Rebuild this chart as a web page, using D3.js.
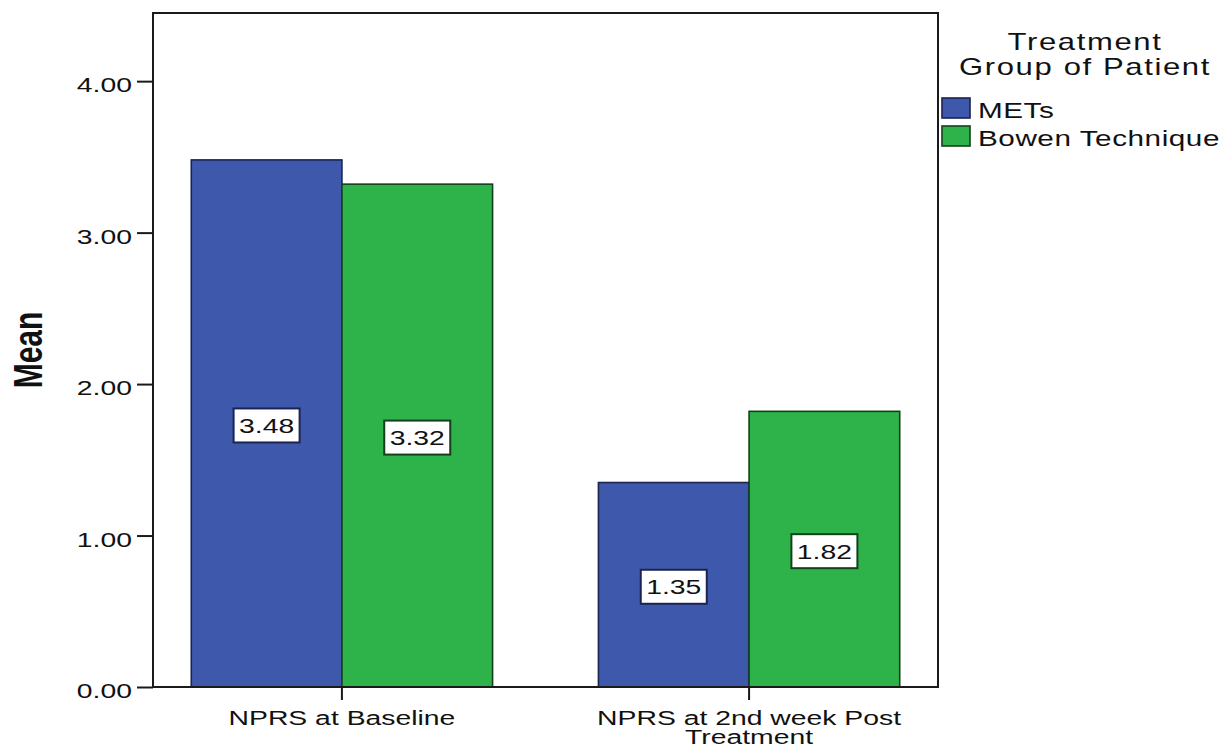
<!DOCTYPE html>
<html>
<head>
<meta charset="utf-8">
<script src="https://cdn.jsdelivr.net/npm/d3@7/dist/d3.min.js"></script>
<style>
  html, body { margin: 0; padding: 0; background: #fff; }
  svg { display: block; font-family: Arial, "Liberation Sans", sans-serif; }
</style>
</head>
<body>
<svg id="chart" width="1227" height="744"></svg>
<script>
// Mean NPRS pain score by treatment group
const categories = ["NPRS at Baseline", "NPRS at 2nd week Post Treatment"];
const categoryLines = [["NPRS at Baseline"], ["NPRS at 2nd week Post", "Treatment"]];
const series = ["METs", "Bowen Technique"];
const metsValues = [3.48, 1.35];
const bowenValues = [3.32, 1.82];
const yTicks = [0, 1, 2, 3, 4];
const legendTitle = ["Treatment", "Group of Patient"];
const yTitle = "Mean";

const seriesValues = [metsValues, bowenValues];
const fills = ["#3E58AC", "#2EB34A"];
const edges = ["#1b2450", "#13401c"];
const SX = 1.35; // horizontal text stretch

const svg = d3.select("#chart");
const plot = { left: 153, top: 13, right: 938, bottom: 687 };

const y = d3.scaleLinear().domain([0, 4.45]).range([plot.bottom, plot.top]);
const x0 = d3.scaleBand().domain(categories).range([plot.left, plot.right])
  .paddingInner(0.26).paddingOuter(0.094);
const x1 = d3.scaleBand().domain(series).range([0, x0.bandwidth()]);

const rows = [];
categories.forEach((c, i) => {
  series.forEach((s, j) => rows.push({ cat: c, ser: s, j, value: seriesValues[j][i] }));
});

// bars
svg.append("g").selectAll("rect").data(rows).join("rect")
  .attr("x", d => x0(d.cat) + x1(d.ser))
  .attr("y", d => y(d.value))
  .attr("width", x1.bandwidth())
  .attr("height", d => y(0) - y(d.value))
  .attr("fill", d => fills[d.j])
  .attr("stroke", d => edges[d.j])
  .attr("stroke-width", 1.6);

// value labels in boxes at half the bar height
const lab = svg.append("g").selectAll("g").data(rows).join("g")
  .attr("transform", d => `translate(${x0(d.cat) + x1(d.ser) + x1.bandwidth() / 2},${(y(d.value) + y(0)) / 2 + 2})`);
lab.append("rect")
  .attr("x", -33).attr("y", -17).attr("width", 66).attr("height", 34)
  .attr("fill", "#fff")
  .attr("stroke", d => edges[d.j])
  .attr("stroke-width", 2);
lab.append("text")
  .attr("transform", `scale(${SX},1)`)
  .attr("text-anchor", "middle")
  .attr("dy", "0.36em")
  .attr("font-size", 21)
  .attr("fill", "#111")
  .text(d => d3.format(".2f")(d.value));

// frame
svg.append("rect")
  .attr("x", plot.left).attr("y", plot.top)
  .attr("width", plot.right - plot.left).attr("height", plot.bottom - plot.top)
  .attr("fill", "none").attr("stroke", "#1a1a1a").attr("stroke-width", 2);

// y axis
const yAxis = svg.append("g")
  .attr("transform", `translate(${plot.left},0)`)
  .call(d3.axisLeft(y).tickValues(yTicks).tickFormat(d3.format(".2f")).tickSize(16).tickSizeOuter(0));
yAxis.select(".domain").remove();
yAxis.selectAll("line").attr("stroke", "#1a1a1a").attr("stroke-width", 2);
yAxis.selectAll("text")
  .attr("transform", `scale(${SX},1)`)
  .attr("x", -21 / SX)
  .attr("dy", "0.5em")
  .attr("font-size", 21)
  .attr("font-family", "Arial, 'Liberation Sans', sans-serif")
  .attr("fill", "#111");

// x axis
const xAxis = svg.append("g")
  .attr("transform", `translate(0,${plot.bottom})`)
  .call(d3.axisBottom(x0).tickSize(13).tickSizeOuter(0).tickFormat(""));
xAxis.select(".domain").remove();
xAxis.selectAll("line").attr("stroke", "#1a1a1a").attr("stroke-width", 2);
xAxis.selectAll(".tick text").remove();
xAxis.selectAll(".tick").each(function (d, i) {
  const t = d3.select(this).append("text")
    .attr("transform", `scale(${SX},1)`)
    .attr("text-anchor", "middle")
    .attr("font-size", 21)
    .attr("font-family", "Arial, 'Liberation Sans', sans-serif")
    .attr("fill", "#111");
  categoryLines[i].forEach((line, k) => {
    t.append("tspan").attr("x", 0).attr("y", 38 + k * 19).text(line);
  });
});

// y title
svg.append("text")
  .attr("transform", `translate(42,350) scale(${SX},1) rotate(-90)`)
  .attr("text-anchor", "middle")
  .attr("font-size", 30)
  .attr("font-weight", "bold")
  .attr("fill", "#111")
  .text(yTitle);

// legend
const leg = svg.append("g");
legendTitle.forEach((line, k) => {
  leg.append("text")
    .attr("transform", `translate(1085,${50 + k * 25}) scale(${SX},1)`)
    .attr("text-anchor", "middle")
    .attr("font-size", 23)
    .attr("letter-spacing", 1.2)
    .attr("fill", "#111")
    .text(line);
});
const item = leg.selectAll("g.item").data(series).join("g")
  .attr("class", "item")
  .attr("transform", (d, i) => `translate(942,${98 + i * 28})`);
item.append("rect")
  .attr("width", 28).attr("height", 20)
  .attr("fill", (d, i) => fills[i])
  .attr("stroke", (d, i) => edges[i])
  .attr("stroke-width", 1.6);
item.append("text")
  .attr("transform", `translate(36,20) scale(${SX},1)`)
  .attr("font-size", 22)
  .attr("letter-spacing", 0.4)
  .attr("fill", "#111")
  .text(d => d);
</script>
</body>
</html>
